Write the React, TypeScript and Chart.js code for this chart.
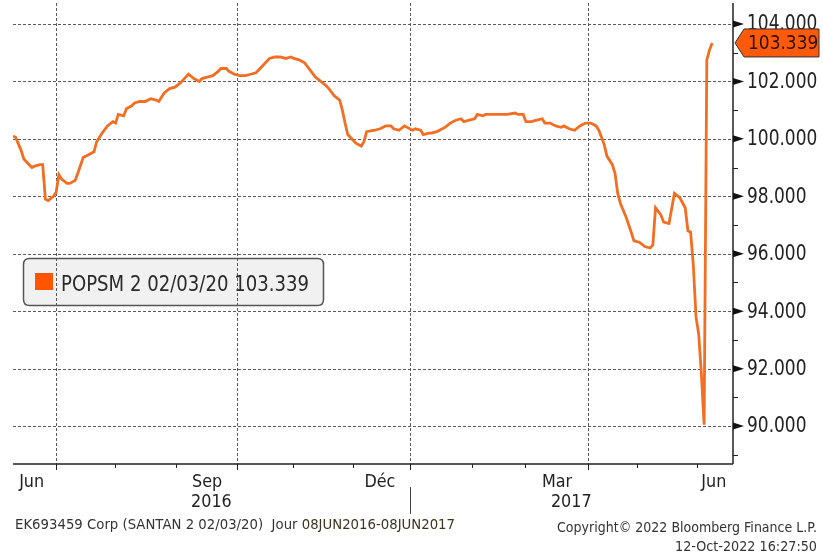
import React, { useEffect, useRef } from 'react';
import { Chart, registerables } from 'chart.js';

Chart.register(...registerables);

// ---- data (x = trading-day index from 08 Jun 2016) ----
const tradingDay = [
  0, 1, 3, 4, 6, 7, 8, 10, 11, 12, 13, 15, 16, 17, 18, 20, 21, 23, 24, 26, 28, 30, 31, 33, 35, 37, 38, 39, 41, 42,
  44, 45, 47, 49, 51, 53, 54, 56, 58, 60, 62, 64, 65, 67, 69, 70, 72, 74, 76, 77, 79, 80, 82, 84, 86, 88, 90, 91,
  93, 95, 97, 99, 101, 103, 104, 106, 108, 110, 112, 114, 116, 117, 119, 121, 122, 123, 124, 126, 127, 129, 130,
  131, 134, 136, 138, 140, 141, 143, 145, 146, 148, 149, 151, 152, 154, 155, 157, 158, 160, 162, 164, 166, 167,
  169, 171, 172, 174, 175, 177, 180, 183, 186, 187, 189, 190, 192, 194, 196, 197, 199, 201, 203, 204, 206, 208,
  210, 212, 214, 216, 217, 219, 220, 222, 223, 224, 225, 227, 229, 230, 232, 234, 236, 237, 238, 240, 241, 243,
  245, 247, 249, 250, 251, 252, 253, 254, 255, 256, 257, 258, 259,
];
const price = [
  100.1, 100.05, 99.6, 99.3, 99.1, 99.0, 99.05, 99.1, 99.1, 97.9, 97.85, 98.0, 98.15, 98.75, 98.6, 98.45, 98.45,
  98.55, 98.8, 99.35, 99.45, 99.55, 99.9, 100.2, 100.45, 100.6, 100.55, 100.85, 100.8, 101.05,
  101.15, 101.25, 101.3, 101.3, 101.4, 101.35, 101.3, 101.6, 101.75, 101.8, 101.95, 102.15, 102.25, 102.1, 102.0,
  102.1, 102.15, 102.2, 102.35, 102.45, 102.45, 102.35, 102.25, 102.2, 102.2, 102.25, 102.3, 102.4,
  102.6, 102.8, 102.85, 102.85, 102.8, 102.85, 102.8, 102.75, 102.65, 102.4, 102.15, 102.0, 101.85, 101.75, 101.5,
  101.35, 101.0, 100.55, 100.15, 99.95, 99.85, 99.75, 99.9,
  100.25, 100.3, 100.35, 100.45, 100.45, 100.35, 100.3, 100.45, 100.4, 100.3, 100.35, 100.3, 100.15, 100.2, 100.2,
  100.25, 100.3, 100.4, 100.55, 100.65, 100.7, 100.6,
  100.65, 100.7, 100.85, 100.8, 100.85, 100.85, 100.85, 100.85, 100.9, 100.85, 100.85, 100.6, 100.6, 100.65, 100.7,
  100.55, 100.55, 100.45, 100.4, 100.45, 100.35, 100.3,
  100.45, 100.55, 100.55, 100.45, 100.3, 99.8, 99.4, 99.1, 98.8, 98.1, 97.75, 97.3, 96.75, 96.45, 96.4, 96.25, 96.2,
  96.3, 97.6, 97.35, 97.1, 97.05,
  98.1, 97.95, 97.6, 96.8, 96.75, 95.6, 93.8, 93.2, 91.8, 90.05, 102.75, 103.1, 103.339,
];

const yMajorTicks = [90, 92, 94, 96, 98, 100, 102, 104];
const yMinorTicks = [89, 91, 93, 95, 97, 99, 101, 103];
const quarterTicks = [16, 83, 147, 213];
const monthTicks = [37.8, 60.4, 103.7, 125.9, 170, 189.6, 231.1, 253.3];
const monthLabels = ['Jun', 'Sep', 'Déc', 'Mar', 'Jun'];
const monthLabelPos = [6.9, 71.9, 135.9, 201.5, 259.6];
const yearLabels = ['2016', '2017'];
const yearLabelPos = [73.5, 206.8];
const yearBreak = 147;
const seriesName = 'POPSM 2 02/03/20';
const footerLeftA = 'EK693459 Corp (SANTAN 2 02/03/20)  Jour ';
const footerLeftB = '08JUN2016-08JUN2017';
const footerRight1 = 'Copyright© 2022 Bloomberg Finance L.P.';
const footerRight2 = '12-Oct-2022 16:27:50';

const LINE = '#F26E22';
const FONT = '"DejaVu Sans", Tahoma, sans-serif';

type TOpt = { size: number; sy?: number; sx?: number; width?: number; align?: string; color?: string; baseline?: string };

function txt(ctx: CanvasRenderingContext2D, s: string, x: number, y: number, o: TOpt) {
  ctx.save();
  ctx.font = `${o.size}px ${FONT}`;
  ctx.fillStyle = o.color || '#222';
  ctx.textBaseline = (o.baseline || 'alphabetic') as CanvasTextBaseline;
  ctx.textAlign = 'left';
  const w = ctx.measureText(s).width;
  const sx = o.width ? o.width / w : o.sx || 1;
  const sy = o.sy || 1;
  const dw = w * sx;
  let left = x;
  if (o.align === 'center') left = x - dw / 2;
  else if (o.align === 'right') left = x - dw;
  ctx.translate(left, y);
  ctx.scale(sx, sy);
  ctx.fillText(s, 0, 0);
  ctx.restore();
  return dw;
}

function roundRect(ctx: CanvasRenderingContext2D, x: number, y: number, w: number, h: number, r: number) {
  ctx.beginPath();
  ctx.moveTo(x + r, y);
  ctx.lineTo(x + w - r, y);
  ctx.quadraticCurveTo(x + w, y, x + w, y + r);
  ctx.lineTo(x + w, y + h - r);
  ctx.quadraticCurveTo(x + w, y + h, x + w - r, y + h);
  ctx.lineTo(x + r, y + h);
  ctx.quadraticCurveTo(x, y + h, x, y + h - r);
  ctx.lineTo(x, y + r);
  ctx.quadraticCurveTo(x, y, x + r, y);
  ctx.closePath();
}

const LEG = { x: 23, y: 258, w: 300, h: 47 };

const bloombergPlugin = {
  id: 'bloomberg',
  beforeDatasetsDraw(chart: any) {
    const { ctx, chartArea: a, scales } = chart;
    const xs = scales.x;
    const ys = scales.y;
    ctx.save();
    roundRect(ctx, LEG.x, LEG.y, LEG.w, LEG.h, 6);
    ctx.fillStyle = '#F1F1F1';
    ctx.fill();
    ctx.strokeStyle = '#5A5A5A';
    ctx.lineWidth = 1;
    ctx.setLineDash([3, 2]);
    for (const v of yMajorTicks) {
      const y = Math.round(ys.getPixelForValue(v)) + 0.5;
      ctx.beginPath();
      ctx.moveTo(a.left, y);
      ctx.lineTo(a.right, y);
      ctx.stroke();
    }
    for (const v of quarterTicks) {
      const x = Math.round(xs.getPixelForValue(v)) + 0.5;
      ctx.beginPath();
      ctx.moveTo(x, a.top);
      ctx.lineTo(x, a.bottom);
      ctx.stroke();
    }
    ctx.restore();
  },
  afterDatasetsDraw(chart: any) {
    const { ctx, chartArea: a, scales } = chart;
    const xs = scales.x;
    const ys = scales.y;
    ctx.save();
    ctx.strokeStyle = '#222';
    ctx.lineWidth = 1.5;
    ctx.beginPath();
    ctx.moveTo(a.left, a.bottom);
    ctx.lineTo(a.right, a.bottom);
    ctx.moveTo(a.right, a.top);
    ctx.lineTo(a.right, a.bottom);
    ctx.stroke();
    ctx.lineWidth = 1;
    for (const v of quarterTicks) {
      const x = Math.round(xs.getPixelForValue(v)) + 0.5;
      ctx.beginPath();
      ctx.moveTo(x, a.bottom);
      ctx.lineTo(x, a.bottom + 6);
      ctx.stroke();
    }
    for (const v of monthTicks) {
      const x = Math.round(xs.getPixelForValue(v)) + 0.5;
      ctx.beginPath();
      ctx.moveTo(x, a.bottom);
      ctx.lineTo(x, a.bottom + 4);
      ctx.stroke();
    }
    const xb = Math.round(xs.getPixelForValue(yearBreak)) + 0.5;
    ctx.strokeStyle = '#444';
    ctx.beginPath();
    ctx.moveTo(xb, a.bottom + 23);
    ctx.lineTo(xb, a.bottom + 50);
    ctx.stroke();
    monthLabels.forEach((m, i) => {
      txt(ctx, m, xs.getPixelForValue(monthLabelPos[i]), a.bottom + 23, { size: 16, sy: 1.12, align: 'center', color: '#222' });
    });
    yearLabels.forEach((m, i) => {
      txt(ctx, m, xs.getPixelForValue(yearLabelPos[i]), a.bottom + 43, { size: 16, sy: 1.12, align: 'center', color: '#222' });
    });
    ctx.strokeStyle = '#222';
    for (const v of yMinorTicks) {
      const y = Math.round(ys.getPixelForValue(v)) + 0.5;
      ctx.beginPath();
      ctx.moveTo(a.right, y);
      ctx.lineTo(a.right + 5, y);
      ctx.stroke();
    }
    for (const v of yMajorTicks) {
      const y = ys.getPixelForValue(v);
      ctx.fillStyle = '#111';
      ctx.beginPath();
      ctx.moveTo(a.right, y - 3.5);
      ctx.lineTo(a.right + 11, y);
      ctx.lineTo(a.right, y + 3.5);
      ctx.closePath();
      ctx.fill();
      txt(ctx, v.toFixed(3), a.right + 14, y + 1, { size: 17, sy: 1.2, baseline: 'middle', color: '#222' });
    }
    const last = price[price.length - 1];
    const yl = ys.getPixelForValue(last);
    ctx.beginPath();
    ctx.moveTo(a.right + 2, yl);
    ctx.lineTo(a.right + 11, yl - 14);
    ctx.lineTo(a.right + 86, yl - 14);
    ctx.lineTo(a.right + 86, yl + 14);
    ctx.lineTo(a.right + 11, yl + 14);
    ctx.closePath();
    ctx.fillStyle = '#FF5A0A';
    ctx.fill();
    ctx.strokeStyle = '#333';
    ctx.lineWidth = 1;
    ctx.stroke();
    txt(ctx, last.toFixed(3), a.right + 15, yl + 1, { size: 17, sy: 1.15, baseline: 'middle', color: '#2A1000' });
    roundRect(ctx, LEG.x + 0.5, LEG.y + 0.5, LEG.w, LEG.h, 6);
    ctx.strokeStyle = '#555';
    ctx.lineWidth = 1.5;
    ctx.stroke();
    ctx.fillStyle = '#FF5500';
    ctx.fillRect(LEG.x + 12, LEG.y + 15, 18, 17);
    txt(ctx, `${seriesName} ${last.toFixed(3)}`, LEG.x + 38, LEG.y + 33, { size: 18, sy: 1.22, width: 248, color: '#2A2A2A' });
    // footer (fit to 440px total width)
    ctx.font = `12.5px ${FONT}`;
    const fw = ctx.measureText(footerLeftA + footerLeftB).width;
    const fsx = 440 / fw;
    const w1 = txt(ctx, footerLeftA, 15, 529, { size: 12.5, sy: 1.1, sx: fsx, color: '#333' });
    txt(ctx, footerLeftB, 15 + w1, 529, { size: 12.5, sy: 1.1, sx: fsx, color: '#3E3520' });
    txt(ctx, footerRight1, 817, 532, { size: 13, sy: 1.1, width: 260, align: 'right', color: '#333' });
    txt(ctx, footerRight2, 817, 551, { size: 13, sy: 1.1, width: 142, align: 'right', color: '#333' });
    ctx.restore();
  },
};

export default function App() {
  const ref = useRef<HTMLCanvasElement | null>(null);
  useEffect(() => {
    document.body.style.margin = '0';
    const canvas = ref.current;
    if (!canvas) return;
    const chart = new Chart(canvas, {
      type: 'line',
      data: {
        datasets: [
          {
            label: seriesName,
            data: tradingDay.map((d, i) => ({ x: d, y: price[i] })),
            borderColor: LINE,
            borderWidth: 2.8,
            pointRadius: 0,
            tension: 0,
            fill: false,
          },
        ],
      },
      options: {
        animation: false,
        responsive: false,
        devicePixelRatio: 1,
        layout: { padding: { left: 13, right: 90, top: 3, bottom: 91 } },
        plugins: { legend: { display: false }, tooltip: { enabled: false } },
        scales: {
          x: { type: 'linear', min: 0, max: 266.7, display: false },
          y: { type: 'linear', min: 88.68, max: 104.73, display: false },
        },
      },
      plugins: [bloombergPlugin],
    });
    return () => chart.destroy();
  }, []);
  return (
    <div style={{ width: 823, height: 555, background: '#fff' }}>
      <canvas ref={ref} width={823} height={555} style={{ display: 'block' }} />
    </div>
  );
}
